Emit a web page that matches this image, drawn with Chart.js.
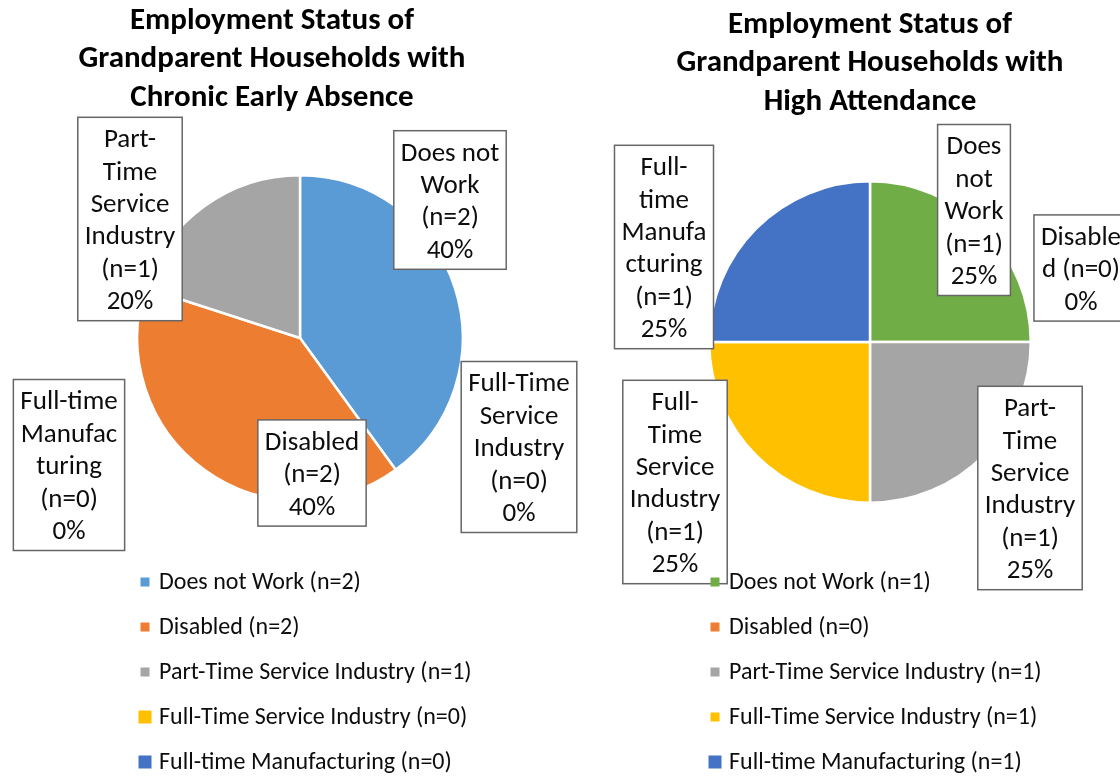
<!DOCTYPE html>
<html>
<head>
<meta charset="utf-8">
<script src="https://cdn.jsdelivr.net/npm/chart.js@4.4.0/dist/chart.umd.min.js"></script>
<style>
    body { margin: 0; background: #fff; width: 1120px; height: 777px; overflow: hidden; position: relative; }
    canvas { position: absolute; top: 0; }
</style>
</head>
<body>
<canvas id="absenceChart" width="600" height="777" style="left:0"></canvas>
<canvas id="attendanceChart" width="560" height="777" style="left:560px"></canvas>
<script>
const categories = ['Does not Work', 'Disabled', 'Part-Time Service Industry', 'Full-Time Service Industry', 'Full-time Manufacturing'];
const absenceCounts = [2, 2, 1, 0, 0];
const attendanceCounts = [1, 0, 1, 1, 1];
const absenceColors = ['#5B9BD5', '#ED7D31', '#A5A5A5', '#FFC000', '#4472C4'];
const attendanceColors = ['#70AD47', '#ED7D31', '#A5A5A5', '#FFC000', '#4472C4'];
const absenceTitle = ['Employment Status of', 'Grandparent Households with', 'Chronic Early Absence'];
const attendanceTitle = ['Employment Status of', 'Grandparent Households with', 'High Attendance'];

// how the data label text wraps inside each box ({n} = count)
const absenceLabelLines = [['Does not', 'Work', '{n}'], ['Disabled', '{n}'], ['Part-', 'Time', 'Service', 'Industry', '{n}'], ['Full-Time', 'Service', 'Industry', '{n}'], ['Full-time', 'Manufac', 'turing', '{n}']];
const attendanceLabelLines = [['Does', 'not', 'Work', '{n}'], ['Disable', 'd {n}'], ['Part-', 'Time', 'Service', 'Industry', '{n}'], ['Full-', 'Time', 'Service', 'Industry', '{n}'], ['Full-', 'time', 'Manufa', 'cturing', '{n}']];

// layout only: where each label box sits (canvas coords) and legend marker sizes
const absenceBoxPos = [[450, 200], [312, 473], [130, 219], [519, 447], [69, 465]];
const attendanceBoxPos = [[414, 210], [521, 268], [470, 488], [115, 482], [104, 247]];
const absenceMarkers = [9, 9, 9, 13, 13];
const attendanceMarkers = [9, 9, 9, 9, 13];

const FONT = 'Carlito, Lato, sans-serif';

const calloutPlugin = {
    id: 'callouts',
    afterDatasetsDraw(chart, args, opts) {
        const ctx = chart.ctx;
        const values = chart.data.datasets[0].data;
        const total = values.reduce((a, b) => a + b, 0);
        ctx.save();
        ctx.font = '27px ' + FONT;
        ctx.textAlign = 'center';
        ctx.textBaseline = 'middle';
        const lineH = 32.4;
        values.forEach((v, i) => {
            const lines = opts.lines[i].map(l => l.replace('{n}', '(n=' + v + ')'));
            lines.push(Math.round(v / total * 100) + '%');
            const w = Math.max(...lines.map(l => ctx.measureText(l).width)) + 14;
            const h = lines.length * lineH + 9;
            const [cx, cy] = opts.pos[i];
            ctx.fillStyle = '#fff';
            ctx.fillRect(cx - w / 2, cy - h / 2, w, h);
            ctx.strokeStyle = '#666';
            ctx.lineWidth = 1.5;
            ctx.strokeRect(cx - w / 2, cy - h / 2, w, h);
            ctx.fillStyle = '#0D0D0D';
            lines.forEach((l, k) => {
                ctx.fillText(l, cx, cy - h / 2 + 7 + lineH * (k + 0.5));
            });
        });
        ctx.restore();
    },
    afterDraw(chart, args, opts) {
        const ctx = chart.ctx;
        ctx.save();
        // title
        ctx.font = 'bold 31px ' + FONT;
        ctx.fillStyle = '#000';
        ctx.textAlign = 'center';
        ctx.textBaseline = 'middle';
        opts.title.forEach((t, k) => ctx.fillText(t, opts.titleX, opts.titleY + k * 38.5));
        // legend, one entry per row
        ctx.font = '24px ' + FONT;
        ctx.textAlign = 'left';
        chart.data.labels.forEach((label, i) => {
            const y = 582 + i * 45;
            const s = opts.markers[i];
            ctx.fillStyle = chart.data.datasets[0].backgroundColor[i];
            ctx.fillRect(opts.legendX - s / 2, y - s / 2, s, s);
            ctx.fillStyle = '#0D0D0D';
            ctx.fillText(label + ' (n=' + chart.data.datasets[0].data[i] + ')', opts.legendX + 14, y + 1);
        });
        ctx.restore();
    }
};

function createChart(id, counts, colors, lines, pos, markers, title, titleX, titleY, legendX, padding) {
    new Chart(document.getElementById(id), {
        type: 'pie',
        data: {
            labels: categories,
            datasets: [{
                data: counts,
                backgroundColor: colors,
                borderColor: '#fff',
                borderWidth: 2.5
            }]
        },
        options: {
            responsive: false,
            animation: false,
            layout: { padding: padding },
            plugins: {
                legend: { display: false },
                tooltip: { enabled: false },
                callouts: { lines: lines, pos: pos, markers: markers, title: title, titleX: titleX, titleY: titleY, legendX: legendX }
            }
        },
        plugins: [calloutPlugin]
    });
}

createChart('absenceChart', absenceCounts, absenceColors, absenceLabelLines, absenceBoxPos, absenceMarkers,
    absenceTitle, 272, 21, 145, { left: 136, right: 136, top: 174, bottom: 275 });
createChart('attendanceChart', attendanceCounts, attendanceColors, attendanceLabelLines, attendanceBoxPos, attendanceMarkers,
    attendanceTitle, 310, 25, 155, { left: 148, right: 88, top: 180, bottom: 273 });
</script>
</body>
</html>
